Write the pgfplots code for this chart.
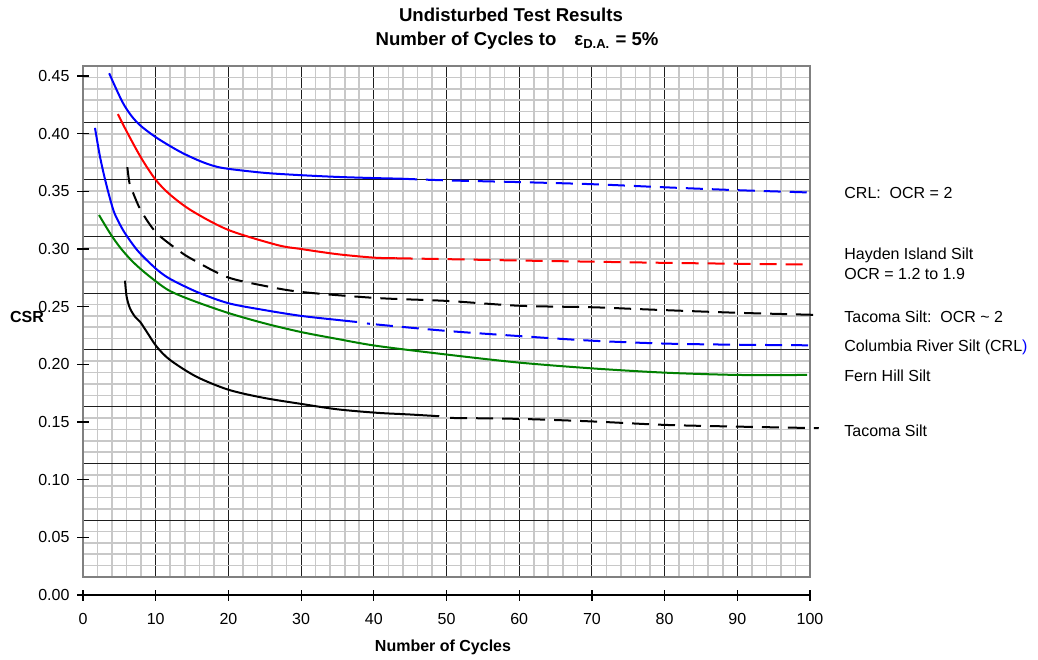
\documentclass[border=0pt]{standalone}
\usepackage{pgfplots}
\pgfplotsset{compat=1.18}
\usepackage{fontspec}
\setmainfont{Liberation Sans}
\definecolor{cblue}{RGB}{0,0,255}
\definecolor{cred}{RGB}{255,0,0}
\definecolor{cgreen}{RGB}{0,128,0}
\definecolor{cminor}{RGB}{200,200,200}
\definecolor{cmajor}{RGB}{30,30,30}
\definecolor{cframe}{RGB}{128,128,128}
\tikzset{dsh/.style={dash pattern=on 8.5pt off 4.5pt}}
\begin{document}
\begin{tikzpicture}
\path[use as bounding box] (0,0) rectangle (519pt,329.5pt);
% background grid (offset as in the original)
\begin{axis}[at={(41.5pt,41pt)}, anchor=south west, scale only axis,
  width=363.5pt, height=255.5pt,
  xmin=0, xmax=100, ymin=0, ymax=9,
  xtick={0,10,...,100}, ytick={0,1,...,9},
  minor x tick num=4, minor y tick num=4,
  grid=both, xticklabels={}, yticklabels={},
  major tick length=0pt, minor tick length=0pt,
  major grid style={draw=cmajor, line width=0.55pt},
  minor grid style={draw=cminor, line width=0.8pt},
  axis line style={draw=cframe, line width=1pt}]
\end{axis}
% data axis
\begin{axis}[at={(41.5pt,32pt)}, anchor=south west, scale only axis,
  width=363.5pt, height=259.5pt,
  xmin=0, xmax=100, ymin=0, ymax=0.45, clip=false,
  axis x line*=bottom, axis y line*=left,
  y axis line style={draw=none},
  x axis line style={line width=0.6pt},
  tick align=center, major tick length=5.5pt,
  tick style={black, line width=0.6pt},
  xtick={0,10,20,30,40,50,60,70,80,90,100},
  ytick={0,0.05,0.10,0.15,0.20,0.25,0.30,0.35,0.40,0.45},
  yticklabels={0.00,0.05,0.10,0.15,0.20,0.25,0.30,0.35,0.40,0.45},
  /pgf/number format/assume math mode=true,
  ticklabel style={font=\fontsize{8}{9}\selectfont},
  xticklabel style={yshift=-3pt},
  yticklabel style={xshift=-0.5pt},
  every axis plot/.append style={line width=1pt, smooth, tension=0.5}]
% CRL: OCR = 2
\addplot[cblue] coordinates {(3.6,0.4524)(5.55,0.426)(7.4,0.410)(10,0.397)(13.3,0.3845)(16,0.3765)(18,0.372)(20,0.3695)(25,0.366)(30,0.364)(35,0.3625)(40,0.3615)(43.6,0.361)};
\addplot[cblue, dsh] coordinates {(43.6,0.361)(50,0.3595)(60,0.358)(70,0.3562)(80,0.3535)(90,0.351)(100,0.349)};
% Hayden Island Silt
\addplot[cred] coordinates {(4.8,0.417)(6,0.402)(8,0.379)(10,0.360)(12,0.347)(15,0.333)(20,0.3165)(26.7,0.3035)(30,0.300)(35,0.2955)(40,0.2925)(43,0.292)};
\addplot[cred, dsh] coordinates {(43,0.292)(50,0.2912)(60,0.290)(70,0.289)(80,0.288)(90,0.2872)(100,0.2865)};
% Columbia River Silt (CRL)
\addplot[cblue] coordinates {(1.65,0.405)(2.34,0.380)(3.16,0.357)(4.17,0.3338)(4.9,0.3235)(5.78,0.3136)(7.2,0.301)(8.3,0.2933)(10.2,0.282)(12,0.274)(15.7,0.2627)(20,0.253)(25,0.247)(30,0.242)(35,0.2385)(37.7,0.2367)};
\addplot[cblue, dash pattern=on 0pt off 5pt on 1.5pt off 3pt on 8.5pt off 4.5pt on 8.5pt off 4.5pt on 8.5pt off 4.5pt on 8.5pt off 4.5pt on 8.5pt off 4.5pt on 8.5pt off 4.5pt on 8.5pt off 4.5pt on 8.5pt off 4.5pt on 8.5pt off 4.5pt on 8.5pt off 4.5pt on 8.5pt off 4.5pt on 8.5pt off 4.5pt on 8.5pt off 4.5pt on 8.5pt off 4.5pt on 8.5pt off 4.5pt on 8.5pt off 4.5pt on 8.5pt off 4.5pt on 8.5pt off 4.5pt on 8.5pt off 4.5pt on 8.5pt off 4.5pt on 8.5pt off 4.5pt on 8.5pt off 4.5pt] coordinates {(37.7,0.2367)(40,0.2348)(50,0.229)(60,0.2245)(70,0.2205)(80,0.218)(90,0.217)(100,0.2165)};
% Fern Hill Silt
\addplot[cgreen] coordinates {(2.2,0.3295)(3,0.321)(4.1,0.310)(5.4,0.299)(7,0.288)(9,0.277)(11.7,0.2645)(15,0.2555)(20,0.2445)(25,0.2355)(30,0.228)(35,0.222)(40.4,0.216)(50,0.2085)(60,0.2015)(70,0.1965)(80,0.1928)(90,0.1908)(99.6,0.1908)};
% Tacoma Silt: OCR ~ 2
\addplot[black, dsh] coordinates {(6.1,0.371)(6.4,0.357)(6.9,0.3485)(8,0.333)(10.1,0.314)(13.3,0.298)(15.2,0.2905)(19.8,0.2757)(25,0.268)(30.1,0.2627)(40.4,0.2575)(50,0.255)(60,0.2508)(70,0.2495)(76,0.248)(80,0.247)(90,0.2447)(100,0.243)(101.2,0.2428)};
% Tacoma Silt
\addplot[black] coordinates {(5.78,0.2725)(6.0,0.2587)(6.46,0.2486)(7.15,0.2413)(7.84,0.237)(8.76,0.2283)(10.14,0.2153)(11.97,0.2038)(15.6,0.1893)(20,0.178)(24.8,0.171)(30.1,0.1656)(35,0.161)(40.4,0.158)(45,0.1565)(49,0.155)};
\addplot[black, dsh] coordinates {(50.5,0.1535)(60,0.1527)(70,0.1505)(80,0.1475)(90,0.146)(100,0.1448)(101.2,0.1446)};
\end{axis}
% titles and labels
\node[font=\fontsize{9.3}{11}\selectfont\bfseries] at (255.5pt,322pt) {Undisturbed Test Results};
\node[font=\fontsize{9.3}{11}\selectfont\bfseries] at (258.5pt,309pt) {Number of Cycles to\hspace{9pt}ε\textsubscript{D.A.} = 5\%};
\node[font=\fontsize{8}{9}\selectfont\bfseries] at (221.5pt,6pt) {Number of Cycles};
\node[font=\fontsize{8}{9}\selectfont\bfseries] at (13.5pt,171pt) {CSR};
\begin{scope}[every node/.style={anchor=west, inner sep=0pt, font=\fontsize{8}{9}\selectfont}]
\node at (422pt,233pt) {CRL:\ \ OCR = 2};
\node at (422pt,202pt) {Hayden Island Silt};
\node at (422pt,192.5pt) {OCR = 1.2 to 1.9};
\node at (422pt,171pt) {Tacoma Silt:\ \ OCR \textasciitilde\ 2};
\node at (422pt,156pt) {Columbia River Silt (CRL\textcolor{cblue}{)}};
\node at (422pt,141.5pt) {Fern Hill Silt};
\node at (422pt,114pt) {Tacoma Silt};
\end{scope}
\end{tikzpicture}
\end{document}
